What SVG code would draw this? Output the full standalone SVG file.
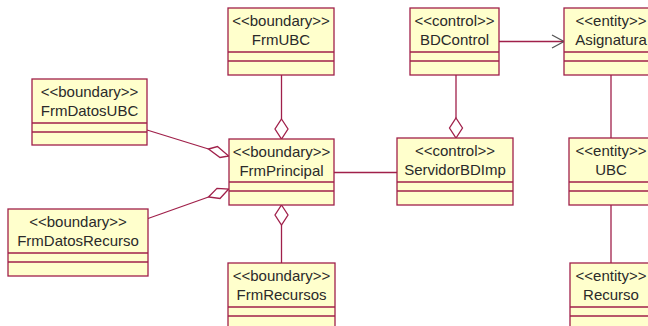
<svg xmlns="http://www.w3.org/2000/svg" width="648" height="326" viewBox="0 0 648 326">
  <style>
    .box { fill: #ffffcc; stroke: #a0204a; stroke-width: 1.3; }
    .div { stroke: #a0204a; stroke-width: 1.3; }
    .lbl { font-family: "Liberation Sans", Arial, sans-serif; font-size: 15px; fill: #2a2a2a; text-anchor: middle; }
    .edge { stroke: #a0204a; stroke-width: 1.3; fill: none; }
    .dia { stroke: #a0204a; stroke-width: 1.3; fill: #ffffff; }
    .arr { stroke: #555555; stroke-width: 1.3; fill: none; }
  </style>

  <!-- connectors -->
  <g id="connectors">
    <!-- FrmUBC -> FrmPrincipal (aggregation) -->
    <line class="edge" x1="281.5" y1="75" x2="281.5" y2="119"/>
    <polygon class="dia" points="281.5,119 288,129 281.5,139 275,129"/>
    <!-- FrmDatosUBC -> FrmPrincipal -->
    <line class="edge" x1="147" y1="130" x2="208.5" y2="149"/>
    <polygon class="dia" points="208.5,149 217.5,146.5 228.7,156 220,157.5"/>
    <!-- FrmDatosRecurso -> FrmPrincipal -->
    <line class="edge" x1="148" y1="218.5" x2="208.5" y2="197"/>
    <polygon class="dia" points="208.5,197 217,188.3 228.7,189 220,198.5"/>
    <!-- FrmRecursos -> FrmPrincipal -->
    <line class="edge" x1="281.5" y1="225" x2="281.5" y2="263"/>
    <polygon class="dia" points="281.5,205 288,215 281.5,225 275,215"/>
    <!-- FrmPrincipal - ServidorBDImp -->
    <line class="edge" x1="334" y1="172.5" x2="397" y2="172.5"/>
    <!-- BDControl -> ServidorBDImp -->
    <line class="edge" x1="456" y1="75" x2="456" y2="118"/>
    <polygon class="dia" points="456,118 462.5,128 456,138 449.5,128"/>
    <!-- BDControl -> Asignatura -->
    <line class="edge" x1="499" y1="41.5" x2="564" y2="41.5"/>
    <polyline class="arr" points="552,35 564,41.5 552,48"/>
    <!-- Asignatura - UBC -->
    <line class="edge" x1="611" y1="75" x2="611" y2="138"/>
    <!-- UBC - Recurso -->
    <line class="edge" x1="611" y1="205" x2="611" y2="263"/>
  </g>

  <g id="FrmUBC">
    <rect class="box" x="228" y="8" width="106" height="67"/>
    <line class="div" x1="228" y1="52" x2="334" y2="52"/>
    <line class="div" x1="228" y1="61" x2="334" y2="61"/>
    <text class="lbl" x="281" y="26">&lt;&lt;boundary&gt;&gt;</text>
    <text class="lbl" x="281" y="45">FrmUBC</text>
  </g>

  <g id="FrmDatosUBC">
    <rect class="box" x="32" y="79" width="115" height="66"/>
    <line class="div" x1="32" y1="123" x2="147" y2="123"/>
    <line class="div" x1="32" y1="132" x2="147" y2="132"/>
    <text class="lbl" x="89.5" y="97">&lt;&lt;boundary&gt;&gt;</text>
    <text class="lbl" x="89.5" y="116">FrmDatosUBC</text>
  </g>

  <g id="FrmPrincipal">
    <rect class="box" x="229" y="139" width="105" height="66"/>
    <line class="div" x1="229" y1="182" x2="334" y2="182"/>
    <line class="div" x1="229" y1="191" x2="334" y2="191"/>
    <text class="lbl" x="281.5" y="156.5">&lt;&lt;boundary&gt;&gt;</text>
    <text class="lbl" x="281.5" y="175.5">FrmPrincipal</text>
  </g>

  <g id="FrmDatosRecurso">
    <rect class="box" x="8" y="209" width="140" height="67"/>
    <line class="div" x1="8" y1="253" x2="148" y2="253"/>
    <line class="div" x1="8" y1="262" x2="148" y2="262"/>
    <text class="lbl" x="78" y="226.5">&lt;&lt;boundary&gt;&gt;</text>
    <text class="lbl" x="78" y="246">FrmDatosRecurso</text>
  </g>

  <g id="FrmRecursos">
    <rect class="box" x="228" y="263" width="107" height="67"/>
    <line class="div" x1="228" y1="307" x2="335" y2="307"/>
    <line class="div" x1="228" y1="316" x2="335" y2="316"/>
    <text class="lbl" x="281.5" y="280.5">&lt;&lt;boundary&gt;&gt;</text>
    <text class="lbl" x="281.5" y="300">FrmRecursos</text>
  </g>

  <g id="BDControl">
    <rect class="box" x="410" y="8" width="89" height="67"/>
    <line class="div" x1="410" y1="52" x2="499" y2="52"/>
    <line class="div" x1="410" y1="61" x2="499" y2="61"/>
    <text class="lbl" x="454.5" y="26">&lt;&lt;control&gt;&gt;</text>
    <text class="lbl" x="454.5" y="45">BDControl</text>
  </g>

  <g id="ServidorBDImp">
    <rect class="box" x="397" y="138" width="116" height="67"/>
    <line class="div" x1="397" y1="182" x2="513" y2="182"/>
    <line class="div" x1="397" y1="191" x2="513" y2="191"/>
    <text class="lbl" x="455" y="156">&lt;&lt;control&gt;&gt;</text>
    <text class="lbl" x="455" y="175">ServidorBDImp</text>
  </g>

  <g id="Asignatura">
    <rect class="box" x="564" y="8" width="94" height="67"/>
    <line class="div" x1="564" y1="52" x2="658" y2="52"/>
    <line class="div" x1="564" y1="61" x2="658" y2="61"/>
    <text class="lbl" x="611" y="26">&lt;&lt;entity&gt;&gt;</text>
    <text class="lbl" x="611" y="45">Asignatura</text>
  </g>

  <g id="UBC">
    <rect class="box" x="569" y="138" width="84" height="67"/>
    <line class="div" x1="569" y1="182" x2="653" y2="182"/>
    <line class="div" x1="569" y1="191" x2="653" y2="191"/>
    <text class="lbl" x="611" y="156">&lt;&lt;entity&gt;&gt;</text>
    <text class="lbl" x="611" y="175">UBC</text>
  </g>

  <g id="Recurso">
    <rect class="box" x="570" y="263" width="84" height="67"/>
    <line class="div" x1="570" y1="307" x2="654" y2="307"/>
    <line class="div" x1="570" y1="316" x2="654" y2="316"/>
    <text class="lbl" x="611" y="280.5">&lt;&lt;entity&gt;&gt;</text>
    <text class="lbl" x="611" y="300">Recurso</text>
  </g>
</svg>
